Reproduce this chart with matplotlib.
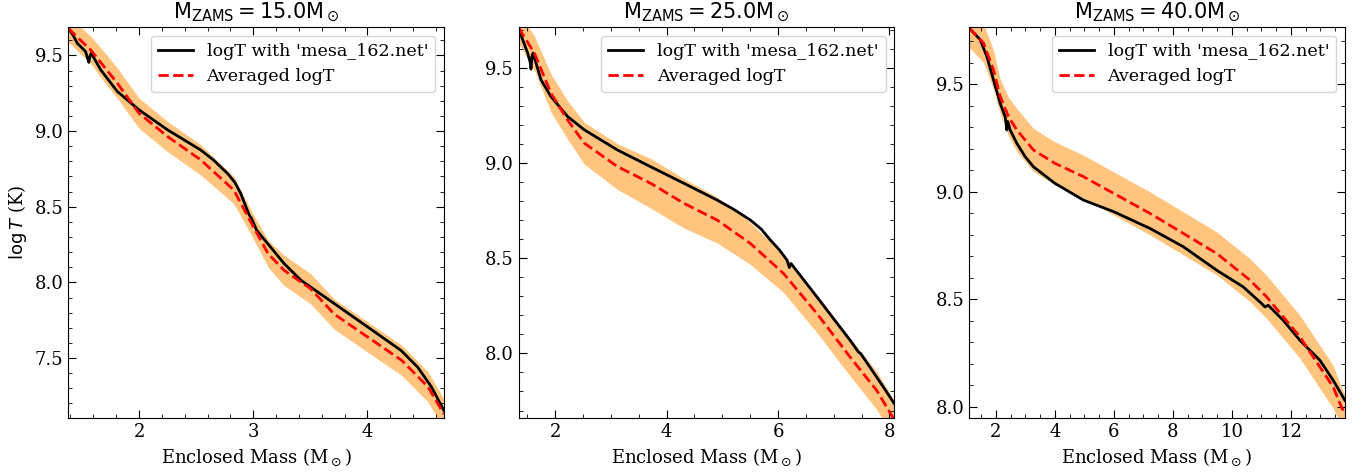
import numpy as np
import matplotlib
matplotlib.use("Agg")
import matplotlib.pyplot as plt
from matplotlib.ticker import MultipleLocator

# ---- data ----
masses = [15.0, 25.0, 40.0]

# M = 15
m15_x = [1.38, 1.42, 1.46, 1.532, 1.561, 1.570, 1.582, 1.664, 1.81, 2.0, 2.25, 2.54,
         2.65, 2.775, 2.84, 2.89, 2.965, 2.985, 3.03, 3.126, 3.27, 3.418, 3.71, 4.003,
         4.295, 4.44, 4.56, 4.67]
m15_T = [9.68, 9.637, 9.58, 9.526, 9.454, 9.493, 9.515, 9.405, 9.262, 9.14, 9.008, 8.875,
         8.81, 8.72, 8.66, 8.588, 8.445, 8.423, 8.345, 8.257, 8.125, 8.014, 7.86, 7.705,
         7.55, 7.44, 7.31, 7.153]
m15_avg_x = [1.38, 1.46, 1.576, 1.70, 1.81, 2.0, 2.25, 2.54, 2.83, 3.0, 3.13, 3.27,
             3.5, 3.71, 4.0, 4.3, 4.53, 4.67]
m15_avg_T = [9.68, 9.62, 9.537, 9.42, 9.317, 9.118, 8.964, 8.81, 8.61, 8.37, 8.19, 8.08,
             7.96, 7.79, 7.64, 7.485, 7.31, 7.13]
m15_std = [0.09, 0.09, 0.09, 0.1, 0.1, 0.1, 0.1, 0.1, 0.09, 0.08, 0.09, 0.1,
           0.1, 0.1, 0.1, 0.1, 0.1, 0.1]

# M = 25
m25_x = [1.343, 1.415, 1.504, 1.552, 1.564, 1.582, 1.6, 1.654, 1.743, 1.922, 2.22, 2.52,
         3.116, 3.713, 4.31, 4.907, 5.2, 5.504, 5.7, 5.863, 6.02, 6.161, 6.203, 6.233,
         6.699, 7.296, 7.445, 7.487, 7.893, 8.09]
m25_T = [9.709, 9.647, 9.577, 9.525, 9.493, 9.56, 9.577, 9.525, 9.437, 9.349, 9.244, 9.174,
         9.068, 8.98, 8.893, 8.805, 8.757, 8.70, 8.652, 8.595, 8.545, 8.49, 8.451, 8.472,
         8.296, 8.068, 8.007, 7.998, 7.823, 7.735]
m25_avg_x = [1.343, 1.624, 1.922, 2.22, 2.52, 3.116, 3.713, 4.31, 4.907, 5.504, 6.101,
             6.699, 7.296, 7.773, 8.09]
m25_avg_T = [9.709, 9.577, 9.367, 9.226, 9.104, 8.981, 8.893, 8.788, 8.70, 8.577, 8.419,
             8.209, 7.98, 7.805, 7.65]
m25_std = [0.08, 0.09, 0.1, 0.1, 0.11, 0.12, 0.13, 0.13, 0.12, 0.11, 0.1,
           0.1, 0.1, 0.1, 0.1]

# M = 40
m40_x = [1.097, 1.47, 1.695, 1.921, 2.034, 2.147, 2.316, 2.35, 2.372, 2.406, 2.485, 2.711,
         2.993, 3.275, 4.0, 4.968, 5.995, 7.226, 8.354, 9.483, 10.386, 11.007, 11.12,
         11.23, 11.74, 12.305, 12.982, 13.433, 13.828]
m40_T = [9.761, 9.707, 9.629, 9.52, 9.466, 9.411, 9.349, 9.318, 9.287, 9.326, 9.287, 9.225,
         9.163, 9.116, 9.039, 8.961, 8.907, 8.829, 8.744, 8.635, 8.557, 8.48, 8.464,
         8.472, 8.402, 8.309, 8.216, 8.123, 8.03]
m40_avg_x = [1.097, 1.582, 1.921, 2.147, 2.429, 2.711, 3.275, 4.0, 4.968, 5.995, 7.226,
             8.354, 9.483, 10.612, 11.176, 12.305, 12.982, 13.433, 13.715, 13.828]
m40_avg_T = [9.761, 9.691, 9.567, 9.443, 9.349, 9.287, 9.194, 9.132, 9.07, 8.992, 8.899,
             8.806, 8.713, 8.589, 8.511, 8.325, 8.185, 8.092, 7.998, 7.967]
m40_std = [0.09, 0.09, 0.09, 0.08, 0.09, 0.1, 0.1, 0.1, 0.1, 0.1, 0.1,
           0.1, 0.1, 0.1, 0.1, 0.1, 0.1, 0.1, 0.09, 0.09]

xlims = [(1.38, 4.67), (1.343, 8.09), (1.097, 13.83)]
ylims = [(7.103, 9.688), (7.66, 9.714), (7.947, 9.766)]
x_major = [1, 2, 2]

plt.rcParams["font.family"] = "DejaVu Serif"
plt.rcParams["mathtext.fontset"] = "dejavusans"
plt.rcParams["font.size"] = 13
plt.rcParams["xtick.direction"] = "in"
plt.rcParams["ytick.direction"] = "in"
plt.rcParams["xtick.top"] = True
plt.rcParams["ytick.right"] = True
plt.rcParams["xtick.minor.visible"] = True
plt.rcParams["ytick.minor.visible"] = True
plt.rcParams["xtick.major.size"] = 6
plt.rcParams["ytick.major.size"] = 6
plt.rcParams["xtick.minor.size"] = 3
plt.rcParams["ytick.minor.size"] = 3

fig, axes = plt.subplots(1, 3, figsize=(13.64, 4.73), dpi=100)
fig.subplots_adjust(left=0.05, right=0.986, bottom=0.116, top=0.943, wspace=0.199)

runs = [(m15_x, m15_T, m15_avg_x, m15_avg_T, m15_std),
        (m25_x, m25_T, m25_avg_x, m25_avg_T, m25_std),
        (m40_x, m40_T, m40_avg_x, m40_avg_T, m40_std)]

for i, ax in enumerate(axes):
    x, T, ax_x, avg, std = runs[i]
    avg = np.array(avg)
    std = np.array(std)
    ax.fill_between(ax_x, avg - std, avg + std, color="darkorange", alpha=0.5, linewidth=0)
    ax.plot(x, T, color="black", linewidth=2, label="logT with 'mesa_162.net'")
    ax.plot(ax_x, avg, color="red", linewidth=2, linestyle="--", label="Averaged logT")

    ax.set_xlim(xlims[i])
    ax.set_ylim(ylims[i])
    ax.xaxis.set_major_locator(MultipleLocator(x_major[i]))
    ax.yaxis.set_major_locator(MultipleLocator(0.5))
    ax.set_title(r"$\rm M_{ZAMS} = %.1f M_\odot$" % masses[i], fontsize=15)
    ax.set_xlabel(r"Enclosed Mass (M$_\odot$)")
    ax.legend(loc="upper right", fontsize=12.6)

axes[0].set_ylabel(r"$\log T$ (K)")

plt.savefig("out.png", dpi=100)
